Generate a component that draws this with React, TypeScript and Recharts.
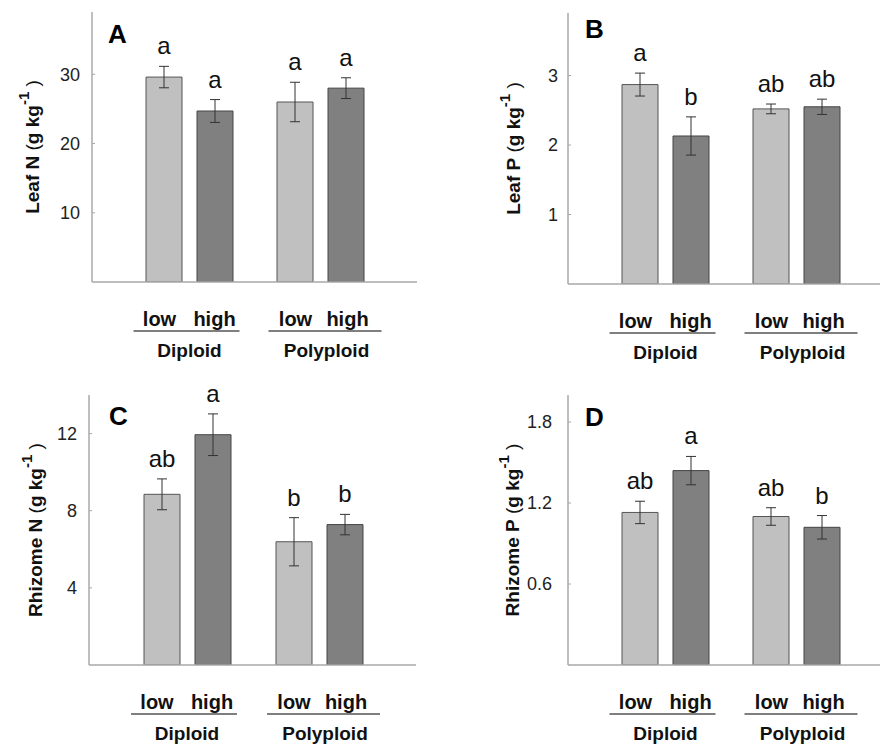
import React from 'react';
import { BarChart, Bar, XAxis, YAxis, ErrorBar, LabelList } from 'recharts';

const groups = ['Diploid', 'Polyploid'];
const treatments = ['low', 'high'];

const leafNLow = [29.6, 26.0];
const leafNLowErr = [1.55, 2.85];
const leafNHigh = [24.7, 28.0];
const leafNHighErr = [1.65, 1.5];
const leafNLowSig = ['a', 'a'];
const leafNHighSig = ['a', 'a'];

const leafPLow = [2.87, 2.52];
const leafPLowErr = [0.165, 0.07];
const leafPHigh = [2.13, 2.55];
const leafPHighErr = [0.275, 0.11];
const leafPLowSig = ['a', 'ab'];
const leafPHighSig = ['b', 'ab'];

const rhizNLow = [8.85, 6.39];
const rhizNLowErr = [0.8, 1.25];
const rhizNHigh = [11.94, 7.28];
const rhizNHighErr = [1.08, 0.53];
const rhizNLowSig = ['ab', 'b'];
const rhizNHighSig = ['a', 'b'];

const rhizPLow = [1.13, 1.1];
const rhizPLowErr = [0.083, 0.065];
const rhizPHigh = [1.44, 1.02];
const rhizPHighErr = [0.105, 0.087];
const rhizPLowSig = ['ab', 'ab'];
const rhizPHighSig = ['a', 'b'];

const leafNTicks = [10, 20, 30];
const leafPTicks = [1, 2, 3];
const rhizNTicks = [4, 8, 12];
const rhizPTicks = [0.6, 1.2, 1.8];

type Row = {
  group: string;
  low: number; lowErr: number; lowSig: string;
  high: number; highErr: number; highSig: string;
};

function build(low: number[], lowErr: number[], lowSig: string[], high: number[], highErr: number[], highSig: string[]): Row[] {
  return groups.map((g, i) => ({
    group: g,
    low: low[i], lowErr: lowErr[i], lowSig: lowSig[i],
    high: high[i], highErr: highErr[i], highSig: highSig[i],
  }));
}

const FONT = 'Arial, "Liberation Sans", sans-serif';
const LIGHT = '#c0c0c0';
const DARK = '#808080';
const AXIS = '#a8a8a8';

type PanelCfg = {
  letter: string;
  labelMain: string;
  data: Row[];
  domain: [number, number];
  ticks: number[];
  left: number; top: number; width: number; height: number;
  marginTop: number; marginRight: number;
  yAxisWidth: number; xAxisHeight: number;
  tickMargin: number;
  labelX: number;
  letterX: number; letterY: number;
};

const XTick = (props: any) => {
  const { x, y, payload, index } = props;
  const dx = index === 0 ? [-30, 25, -56, 50, 0] : [-25, 27, -52, 61, 6];
  return (
    <g fontFamily={FONT} fontWeight="bold" fill="#111">
      <text x={x + dx[0]} y={y + 44} textAnchor="middle" fontSize={20} fill="#111">{treatments[0]}</text>
      <text x={x + dx[1]} y={y + 44} textAnchor="middle" fontSize={20} fill="#111">{treatments[1]}</text>
      <line x1={x + dx[2]} x2={x + dx[3]} y1={y + 49} y2={y + 49} stroke="#555" strokeWidth={1.5} />
      <text x={x + dx[4]} y={y + 75} textAnchor="middle" fontSize={19} fill="#111">{payload.value}</text>
    </g>
  );
};

function Panel({ cfg }: { cfg: PanelCfg }) {
  const { data } = cfg;
  const sigRenderer = (key: 'low' | 'high') => (p: any) => {
    const d = data[p.index];
    const v = d[key];
    const e = key === 'low' ? d.lowErr : d.highErr;
    const h = Number(p.height);
    const errPx = v ? (e / v) * h : 0;
    const cx = Number(p.x) + Number(p.width) / 2;
    const ty = Number(p.y) - errPx - 12;
    return (
      <text key={`${key}-${p.index}`} x={cx} y={ty} textAnchor="middle" fontSize={24} fontFamily={FONT} fill="#111">
        {key === 'low' ? d.lowSig : d.highSig}
      </text>
    );
  };
  const yLabel = (p: any) => {
    const vb = p.viewBox || {};
    const cy = vb.y + vb.height / 2;
    const cx = cfg.labelX;
    return (
      <g>
        <text
          x={cx}
          y={cy}
          transform={`rotate(-90, ${cx}, ${cy})`}
          textAnchor="middle"
          dominantBaseline="central"
          fontFamily={FONT}
          fontSize={19}
          fontWeight="bold"
          fill="#111"
        >
          {cfg.labelMain}
          <tspan fontWeight="normal"> (</tspan>
          <tspan>g kg</tspan>
          <tspan dy={-9} fontSize={15}>-1</tspan>
          <tspan dy={9} fontWeight="normal"> )</tspan>
        </text>
        <text x={cfg.letterX} y={cfg.letterY} fontFamily={FONT} fontSize={26} fontWeight="bold" fill="#000">
          {cfg.letter}
        </text>
      </g>
    );
  };
  return (
    <div style={{ position: 'absolute', left: cfg.left, top: cfg.top }}>
      <BarChart
        width={cfg.width}
        height={cfg.height}
        data={data}
        margin={{ top: cfg.marginTop, right: cfg.marginRight, bottom: 0, left: 0 }}
        barSize={36}
        barGap={15}
      >
        <XAxis
          dataKey="group"
          padding={{ left: 32, right: 31 }}
          axisLine={{ stroke: AXIS, strokeWidth: 1.5 }}
          tickLine={false}
          tickSize={0}
          tickMargin={0}
          height={cfg.xAxisHeight}
          tick={<XTick />}
          interval={0}
        />
        <YAxis
          type="number"
          domain={cfg.domain}
          ticks={cfg.ticks}
          allowDataOverflow
          width={cfg.yAxisWidth}
          axisLine={{ stroke: AXIS, strokeWidth: 1.5 }}
          tickLine={{ stroke: AXIS }}
          tickSize={-3}
          tickMargin={cfg.tickMargin}
          tick={{ fill: '#222', fontSize: 18, fontFamily: FONT }}
          label={yLabel}
        />
        <Bar dataKey="low" fill={LIGHT} stroke="#555" strokeWidth={1} isAnimationActive={false}>
          <ErrorBar dataKey="lowErr" width={5} stroke="#333" strokeWidth={1} direction="y" />
          <LabelList dataKey="lowSig" content={sigRenderer('low')} />
        </Bar>
        <Bar dataKey="high" fill={DARK} stroke="#444" strokeWidth={1} isAnimationActive={false}>
          <ErrorBar dataKey="highErr" width={5} stroke="#333" strokeWidth={1} direction="y" />
          <LabelList dataKey="highSig" content={sigRenderer('high')} />
        </Bar>
      </BarChart>
    </div>
  );
}

const panels: PanelCfg[] = [
  {
    letter: 'A', labelMain: 'Leaf N',
    data: build(leafNLow, leafNLowErr, leafNLowSig, leafNHigh, leafNHighErr, leafNHighSig),
    domain: [0, 39], ticks: leafNTicks,
    left: 0, top: 0, width: 440, height: 370,
    marginTop: 12, marginRight: 23, yAxisWidth: 92, xAxisHeight: 88,
    tickMargin: 15, labelX: 32, letterX: 108, letterY: 43,
  },
  {
    letter: 'B', labelMain: 'Leaf P',
    data: build(leafPLow, leafPLowErr, leafPLowSig, leafPHigh, leafPHighErr, leafPHighSig),
    domain: [0, 3.9], ticks: leafPTicks,
    left: 440, top: 0, width: 460, height: 370,
    marginTop: 13, marginRight: 7, yAxisWidth: 128, xAxisHeight: 86,
    tickMargin: 13, labelX: 73, letterX: 145, letterY: 38,
  },
  {
    letter: 'C', labelMain: 'Rhizome N',
    data: build(rhizNLow, rhizNLowErr, rhizNLowSig, rhizNHigh, rhizNHighErr, rhizNHighSig),
    domain: [0, 14], ticks: rhizNTicks,
    left: 0, top: 370, width: 440, height: 377,
    marginTop: 25, marginRight: 24, yAxisWidth: 89, xAxisHeight: 82,
    tickMargin: 15, labelX: 35, letterX: 109, letterY: 55,
  },
  {
    letter: 'D', labelMain: 'Rhizome P',
    data: build(rhizPLow, rhizPLowErr, rhizPLowSig, rhizPHigh, rhizPHighErr, rhizPHighSig),
    domain: [0, 2], ticks: rhizPTicks,
    left: 440, top: 370, width: 460, height: 377,
    marginTop: 25, marginRight: 7, yAxisWidth: 128, xAxisHeight: 82,
    tickMargin: 19, labelX: 72, letterX: 145, letterY: 56,
  },
];

export default function App() {
  return (
    <div
      style={{
        position: 'fixed', left: 0, top: 0, width: 880, height: 747,
        overflow: 'hidden', background: '#fff',
      }}
    >
      {panels.map((p) => (
        <Panel key={p.letter} cfg={p} />
      ))}
    </div>
  );
}
